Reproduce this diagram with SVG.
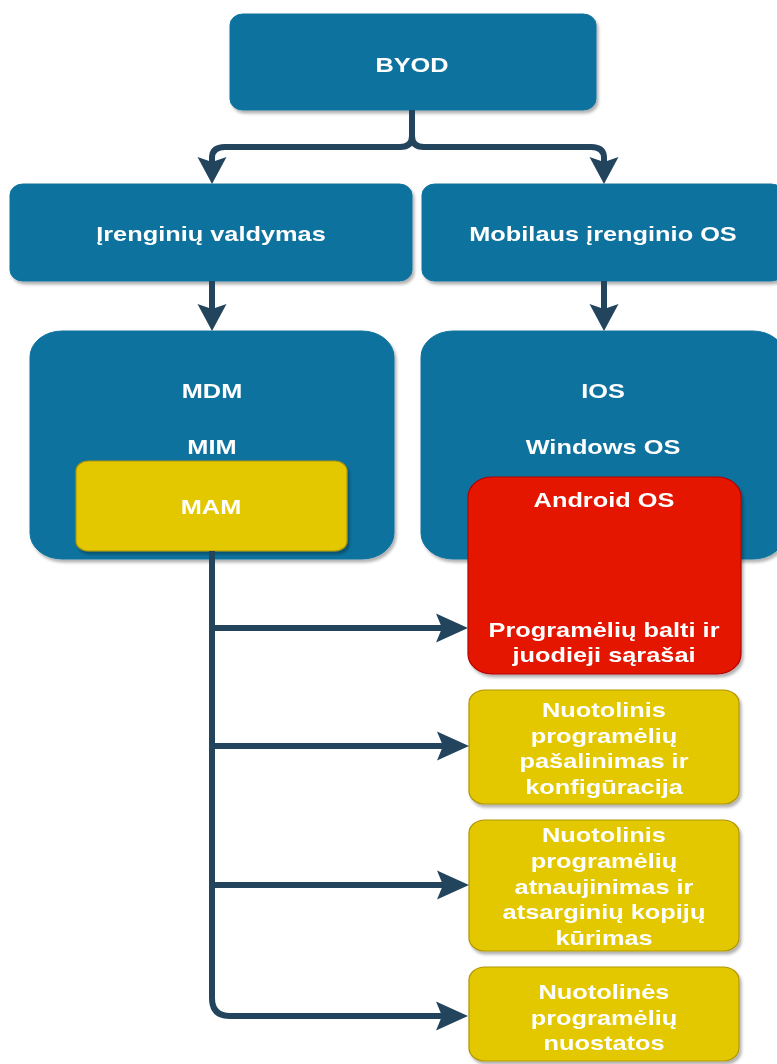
<svg xmlns="http://www.w3.org/2000/svg" width="777" height="1064" viewBox="0 0 777 1064">
<defs>
<style>
.blue{fill:#10739E;stroke:#10739E;stroke-width:1}
.yel{fill:#E3C800;stroke:#B09500;stroke-width:1.2}
.red{fill:#E51400;stroke:#B20000;stroke-width:1.2}
.t{font-family:"Liberation Sans",Arial,sans-serif;font-weight:bold;font-size:19.5px;fill:#FFFFFF;text-anchor:middle}
.c{fill:none;stroke:#23445D;stroke-width:6;stroke-linejoin:round}
</style>
<filter id="sh" x="-10%" y="-10%" width="130%" height="130%">
<feDropShadow dx="2" dy="3" stdDeviation="1.5" flood-color="#000" flood-opacity="0.3"/>
</filter>
<marker id="av" markerUnits="userSpaceOnUse" markerWidth="60" markerHeight="60" refX="0" refY="0" orient="auto" viewBox="-30 -30 60 60" overflow="visible">
<path d="M-5 -14.5 L22 0 L-5 14.5 L0 0 Z" fill="#23445D"/>
</marker>
<marker id="ah" markerUnits="userSpaceOnUse" markerWidth="70" markerHeight="60" refX="0" refY="0" orient="auto" viewBox="-35 -30 70 60" overflow="visible">
<path d="M-6 -14.5 L26 0 L-6 14.5 L0 0 Z" fill="#23445D"/>
</marker>
</defs>
<rect width="777" height="1064" fill="#FFFFFF"/>

<g id="byod" filter="url(#sh)">
<rect class="blue" x="230" y="14" width="366" height="96" rx="13" ry="11"/>
<text class="t" transform="translate(412,72) scale(1.3,1)">BYOD</text>
</g>
<g id="irenginiu-valdymas" filter="url(#sh)">
<rect class="blue" x="10" y="184" width="402" height="97" rx="13" ry="11"/>
<text class="t" transform="translate(211,241) scale(1.3,1)">Įrenginių valdymas</text>
</g>
<g id="mobilaus-os" filter="url(#sh)">
<rect class="blue" x="422" y="184" width="362" height="97" rx="13" ry="11"/>
<text class="t" transform="translate(603,241) scale(1.3,1)">Mobilaus įrenginio OS</text>
</g>
<g id="mdm-mim" filter="url(#sh)">
<rect class="blue" x="30" y="331" width="364" height="228" rx="32" ry="26"/>
<text class="t" transform="translate(212,398) scale(1.3,1)">MDM</text>
<text class="t" transform="translate(212,454) scale(1.3,1)">MIM</text>
</g>
<g id="mam" filter="url(#sh)">
<rect class="yel" x="76" y="461" width="271" height="90" rx="12" ry="10"/>
<text class="t" transform="translate(211,514) scale(1.3,1)">MAM</text>
</g>
<g id="ios-windows" filter="url(#sh)">
<rect class="blue" x="421" y="331" width="364" height="228" rx="32" ry="26"/>
<text class="t" transform="translate(603,398) scale(1.3,1)">IOS</text>
<text class="t" transform="translate(603,454) scale(1.3,1)">Windows OS</text>
</g>
<g id="android" filter="url(#sh)">
<rect class="red" x="468" y="477" width="273" height="197" rx="24" ry="20"/>
<text class="t" transform="translate(604,507) scale(1.3,1)">Android OS</text>
<text class="t" transform="translate(604,637) scale(1.3,1)">Programėlių balti ir</text>
<text class="t" transform="translate(604,662) scale(1.3,1)">juodieji sąrašai</text>
</g>
<g id="pasalinimas" filter="url(#sh)">
<rect class="yel" x="469" y="690" width="270" height="114" rx="16" ry="13"/>
<text class="t" transform="translate(604,717) scale(1.3,1)">Nuotolinis</text>
<text class="t" transform="translate(604,742.7) scale(1.3,1)">programėlių</text>
<text class="t" transform="translate(604,768.3) scale(1.3,1)">pašalinimas ir</text>
<text class="t" transform="translate(604,794) scale(1.3,1)">konfigūracija</text>
</g>
<g id="atnaujinimas" filter="url(#sh)">
<rect class="yel" x="469" y="820" width="270" height="131" rx="16" ry="13"/>
<text class="t" transform="translate(604,842) scale(1.3,1)">Nuotolinis</text>
<text class="t" transform="translate(604,868) scale(1.3,1)">programėlių</text>
<text class="t" transform="translate(604,893.5) scale(1.3,1)">atnaujinimas ir</text>
<text class="t" transform="translate(604,919) scale(1.3,1)">atsarginių kopijų</text>
<text class="t" transform="translate(604,945) scale(1.3,1)">kūrimas</text>
</g>
<g id="nuostatos" filter="url(#sh)">
<rect class="yel" x="469" y="967" width="270" height="94" rx="16" ry="13"/>
<text class="t" transform="translate(604,999) scale(1.3,1)">Nuotolinės</text>
<text class="t" transform="translate(604,1025) scale(1.3,1)">programėlių</text>
<text class="t" transform="translate(604,1050) scale(1.3,1)">nuostatos</text>
</g>

<g id="connectors">
<path class="c" d="M412 110 V136 Q412 147 400 147 H225 Q212 147 212 158 V162" marker-end="url(#av)"/>
<path class="c" d="M412 110 V136 Q412 147 424 147 H591 Q604 147 604 158 V162" marker-end="url(#av)"/>
<path class="c" d="M212 281 V309" marker-end="url(#av)"/>
<path class="c" d="M604 281 V309" marker-end="url(#av)"/>
<path class="c" d="M212 551 V998 Q212 1016 230 1016 H442" marker-end="url(#ah)"/>
<path class="c" d="M212 628 H442" marker-end="url(#ah)"/>
<path class="c" d="M212 746 H443" marker-end="url(#ah)"/>
<path class="c" d="M212 885 H443" marker-end="url(#ah)"/>
</g>
</svg>
